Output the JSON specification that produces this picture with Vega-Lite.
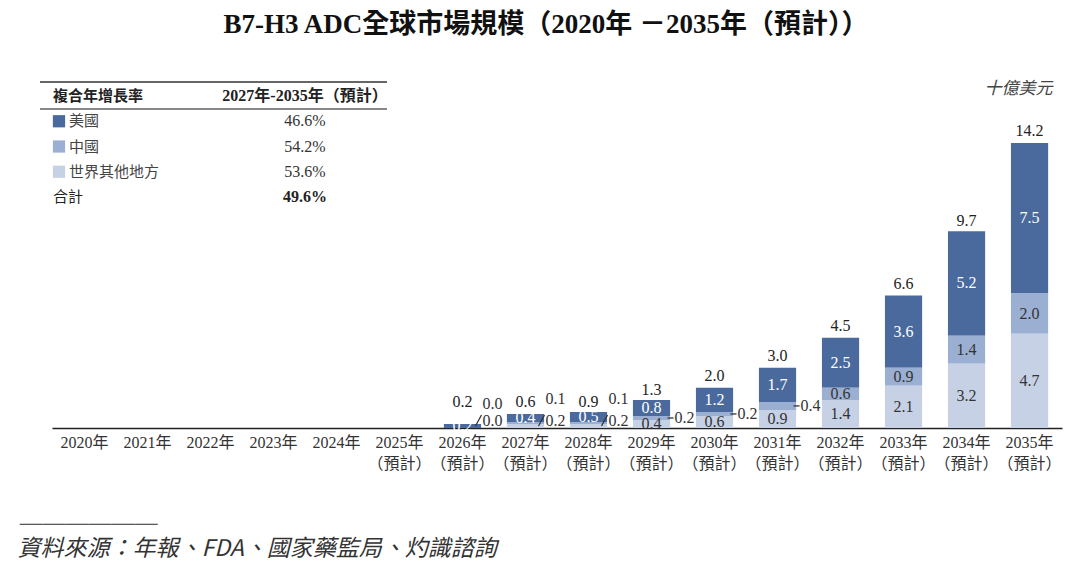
{
  "$schema": "https://vega.github.io/schema/vega-lite/v6.json",
  "width": 1080,
  "height": 368,
  "autosize": {"type": "none"},
  "padding": {"left": 0, "top": 60, "right": 0, "bottom": 137},
  "background": "white",
  "config": {"view": {"stroke": null}},
  "title": {
    "text": "B7-H3 ADC全球市場規模（2020年 －2035年（預計））",
    "font": "Liberation Serif, Noto Sans CJK TC",
    "fontSize": 27,
    "fontWeight": "bold",
    "color": "#111111",
    "anchor": "middle",
    "frame": "group",
    "offset": 8,
    "dx": 6,
    "baseline": "middle"
  },
  "datasets": {
    "bars": [
      {"year": "2026", "region": "美國", "value": 0.2},
      {"year": "2026", "region": "中國", "value": 0.0},
      {"year": "2026", "region": "世界其他地方", "value": 0.0},
      {"year": "2027", "region": "美國", "value": 0.4},
      {"year": "2027", "region": "中國", "value": 0.1},
      {"year": "2027", "region": "世界其他地方", "value": 0.2},
      {"year": "2028", "region": "美國", "value": 0.5},
      {"year": "2028", "region": "中國", "value": 0.1},
      {"year": "2028", "region": "世界其他地方", "value": 0.2},
      {"year": "2029", "region": "美國", "value": 0.8},
      {"year": "2029", "region": "中國", "value": 0.2},
      {"year": "2029", "region": "世界其他地方", "value": 0.4},
      {"year": "2030", "region": "美國", "value": 1.2},
      {"year": "2030", "region": "中國", "value": 0.2},
      {"year": "2030", "region": "世界其他地方", "value": 0.6},
      {"year": "2031", "region": "美國", "value": 1.7},
      {"year": "2031", "region": "中國", "value": 0.4},
      {"year": "2031", "region": "世界其他地方", "value": 0.9},
      {"year": "2032", "region": "美國", "value": 2.5},
      {"year": "2032", "region": "中國", "value": 0.6},
      {"year": "2032", "region": "世界其他地方", "value": 1.4},
      {"year": "2033", "region": "美國", "value": 3.6},
      {"year": "2033", "region": "中國", "value": 0.9},
      {"year": "2033", "region": "世界其他地方", "value": 2.1},
      {"year": "2034", "region": "美國", "value": 5.2},
      {"year": "2034", "region": "中國", "value": 1.4},
      {"year": "2034", "region": "世界其他地方", "value": 3.2},
      {"year": "2035", "region": "美國", "value": 7.5},
      {"year": "2035", "region": "中國", "value": 2.0},
      {"year": "2035", "region": "世界其他地方", "value": 4.7}
    ],
    "totals": [
      {"year": "2026", "total": 0.2},
      {"year": "2027", "total": 0.6},
      {"year": "2028", "total": 0.9},
      {"year": "2029", "total": 1.3},
      {"year": "2030", "total": 2.0},
      {"year": "2031", "total": 3.0},
      {"year": "2032", "total": 4.5},
      {"year": "2033", "total": 6.6},
      {"year": "2034", "total": 9.7},
      {"year": "2035", "total": 14.2}
    ],
    "table": [
      {"row": "header", "label": "複合年增長率", "cagr": "2027年-2035年（預計）"},
      {"row": "us", "region": "美國", "label": "美國", "cagr": "46.6%"},
      {"row": "cn", "region": "中國", "label": "中國", "cagr": "54.2%"},
      {"row": "row", "region": "世界其他地方", "label": "世界其他地方", "cagr": "53.6%"},
      {"row": "total", "label": "合計", "cagr": "49.6%"}
    ]
  },
  "layer": [
    {
      "data": {"name": "bars"},
      "layer": [
        {
          "transform": [
            {"stack": "value", "groupby": ["year"], "sort": [{"field": "region", "order": "ascending"}], "as": ["v0", "v1"]}
          ],
          "mark": {"type": "bar"},
          "encoding": {
            "x": {
              "field": "year",
              "type": "ordinal",
              "scale": {
                "type": "band",
                "domain": ["2020", "2021", "2022", "2023", "2024", "2025", "2026", "2027", "2028", "2029", "2030", "2031", "2032", "2033", "2034", "2035"],
                "range": [52, 1062],
                "paddingInner": 0.41,
                "paddingOuter": 0.22
              },
              "axis": {
                "title": ["──────", "資料來源：年報、FDA、國家藥監局、灼識諮詢"],
                "titleX": 17,
                "titleY": 104,
                "titleAlign": "left",
                "titleAnchor": "start",
                "titleBaseline": "alphabetic",
                "titleLineHeight": 23,
                "titleFont": "Noto Sans CJK TC",
                "titleFontSize": 23,
                "titleFontStyle": "italic",
                "titleFontWeight": "normal",
                "titleColor": "#333333",
                "labelExpr": "toNumber(datum.value) >= 2025 ? [datum.value + '年', '（預計）'] : datum.value + '年'",
                "labelAngle": 0,
                "labelFont": "Liberation Serif, Noto Sans CJK TC",
                "labelFontSize": 16,
                "labelColor": "#333333",
                "labelPadding": 6,
                "labelBaseline": "top",
                "labelLineHeight": 21,
                "ticks": false,
                "domainColor": "#222222",
                "domainWidth": 1.5,
                "grid": false
              }
            },
            "y": {
              "field": "v1",
              "type": "quantitative",
              "scale": {"domain": [0, 18.335], "nice": false, "zero": true},
              "axis": {
                "orient": "right",
                "labels": false,
                "ticks": false,
                "domain": false,
                "grid": false,
                "title": "十億美元",
                "titleAngle": 0,
                "titleX": -28,
                "titleY": 28,
                "titleAlign": "right",
                "titleBaseline": "middle",
                "titleFont": "Noto Sans CJK TC",
                "titleFontStyle": "italic",
                "titleFontSize": 17,
                "titleFontWeight": "normal",
                "titleColor": "#444444"
              }
            },
            "y2": {"field": "v0"},
            "color": {
              "field": "region",
              "type": "nominal",
              "scale": {"domain": ["世界其他地方", "中國", "美國"], "range": ["#c6d1e6", "#9aafd2", "#4a6a9e"]},
              "legend": null
            }
          }
        },
        {
          "transform": [
            {"stack": "value", "groupby": ["year"], "sort": [{"field": "region", "order": "ascending"}], "as": ["v0", "v1"]},
            {"calculate": "(datum.v0 + datum.v1) / 2", "as": "mid"},
            {"filter": "datum.region == '美國' || (datum.region == '中國' && datum.value >= 0.6) || (datum.region == '世界其他地方' && datum.value >= 0.4)"}
          ],
          "mark": {"type": "text", "font": "Liberation Serif", "fontSize": 16, "baseline": "middle", "align": "center"},
          "encoding": {
            "x": {"field": "year", "type": "ordinal"},
            "y": {"field": "mid", "type": "quantitative"},
            "text": {"field": "value", "type": "quantitative", "format": ".1f"},
            "color": {"condition": {"test": "datum.region == '美國'", "value": "white"}, "value": "#333333"}
          }
        },
        {
          "transform": [
            {"stack": "value", "groupby": ["year"], "sort": [{"field": "region", "order": "ascending"}], "as": ["v0", "v1"]},
            {"calculate": "(datum.v0 + datum.v1) / 2", "as": "mid"},
            {"filter": "datum.region == '中國' && datum.value < 0.2"}
          ],
          "mark": {"type": "text", "font": "Liberation Serif", "fontSize": 16, "baseline": "middle", "align": "center", "dx": 30, "dy": -24, "color": "#333333"},
          "encoding": {
            "x": {"field": "year", "type": "ordinal"},
            "y": {"field": "mid", "type": "quantitative"},
            "text": {"field": "value", "type": "quantitative", "format": ".1f"}
          }
        },
        {
          "transform": [
            {"stack": "value", "groupby": ["year"], "sort": [{"field": "region", "order": "ascending"}], "as": ["v0", "v1"]},
            {"calculate": "(datum.v0 + datum.v1) / 2", "as": "mid"},
            {"filter": "datum.region == '中國' && datum.value >= 0.2 && datum.value < 0.6"}
          ],
          "mark": {"type": "rule", "color": "#333333", "strokeWidth": 1.3, "xOffset": 16, "x2Offset": 22},
          "encoding": {
            "x": {"field": "year", "type": "ordinal"},
            "x2": {"field": "year"},
            "y": {"field": "mid", "type": "quantitative"}
          }
        },
        {
          "transform": [
            {"stack": "value", "groupby": ["year"], "sort": [{"field": "region", "order": "ascending"}], "as": ["v0", "v1"]},
            {"calculate": "(datum.v0 + datum.v1) / 2", "as": "mid"},
            {"filter": "datum.region == '中國' && datum.value >= 0.2 && datum.value < 0.6"}
          ],
          "mark": {"type": "text", "font": "Liberation Serif", "fontSize": 16, "baseline": "middle", "align": "left", "dx": 23, "color": "#333333"},
          "encoding": {
            "x": {"field": "year", "type": "ordinal"},
            "y": {"field": "mid", "type": "quantitative"},
            "text": {"field": "value", "type": "quantitative", "format": ".1f"}
          }
        },
        {
          "transform": [
            {"filter": "datum.region == '世界其他地方' && datum.value < 0.4"}
          ],
          "mark": {"type": "rule", "color": "#333333", "strokeWidth": 1.3, "xOffset": 13, "x2Offset": 19, "yOffset": -2, "y2Offset": -13},
          "encoding": {
            "x": {"field": "year", "type": "ordinal"},
            "x2": {"field": "year"},
            "y": {"datum": 0, "type": "quantitative"},
            "y2": {"datum": 0}
          }
        },
        {
          "transform": [
            {"filter": "datum.region == '世界其他地方' && datum.value < 0.4"}
          ],
          "mark": {"type": "text", "font": "Liberation Serif", "fontSize": 16, "baseline": "middle", "align": "left", "dx": 20, "dy": -7, "color": "#333333"},
          "encoding": {
            "x": {"field": "year", "type": "ordinal"},
            "y": {"datum": 0, "type": "quantitative"},
            "text": {"field": "value", "type": "quantitative", "format": ".1f"}
          }
        },
        {
          "data": {"name": "totals"},
          "transform": [{"filter": "datum.total >= 1"}],
          "mark": {"type": "text", "font": "Liberation Serif", "fontSize": 16, "baseline": "bottom", "align": "center", "dy": -4, "color": "#222222"},
          "encoding": {
            "x": {"field": "year", "type": "ordinal"},
            "y": {"field": "total", "type": "quantitative"},
            "text": {"field": "total", "type": "quantitative", "format": ".1f"}
          }
        },
        {
          "data": {"name": "totals"},
          "transform": [{"filter": "datum.total < 1"}],
          "mark": {"type": "text", "font": "Liberation Serif", "fontSize": 16, "baseline": "middle", "align": "center", "dy": -26, "color": "#222222"},
          "encoding": {
            "x": {"field": "year", "type": "ordinal"},
            "y": {"datum": 0, "type": "quantitative"},
            "text": {"field": "total", "type": "quantitative", "format": ".1f"}
          }
        }
      ]
    },
    {
      "data": {"name": "table"},
      "encoding": {
        "y": {
          "field": "row",
          "type": "ordinal",
          "scale": {"type": "point", "domain": ["header", "us", "cn", "row", "total"], "range": [36, 137], "padding": 0},
          "axis": null
        }
      },
      "layer": [
        {
          "transform": [{"filter": "datum.row == 'header'"}],
          "mark": {"type": "rule", "color": "#333333", "strokeWidth": 1.5, "yOffset": -14, "xOffset": -13, "x2Offset": 82},
          "encoding": {
            "x": {"datum": "label", "type": "ordinal", "scale": {"type": "point", "domain": ["label", "value"], "range": [53, 305], "padding": 0}, "axis": null},
            "x2": {"datum": "value"}
          }
        },
        {
          "transform": [{"filter": "datum.row == 'header'"}],
          "mark": {"type": "rule", "color": "#888888", "strokeWidth": 2, "yOffset": 13, "xOffset": -13, "x2Offset": 82},
          "encoding": {
            "x": {"datum": "label", "type": "ordinal", "axis": null},
            "x2": {"datum": "value"}
          }
        },
        {
          "transform": [{"filter": "isValid(datum.region)"}],
          "mark": {"type": "point", "shape": "square", "filled": true, "opacity": 1, "size": 150, "xOffset": 6},
          "encoding": {
            "x": {"datum": "label", "type": "ordinal", "axis": null},
            "color": {"field": "region", "type": "nominal", "legend": null}
          }
        },
        {
          "transform": [{"filter": "isValid(datum.region)"}],
          "mark": {"type": "text", "font": "Noto Sans CJK TC", "fontSize": 15, "align": "left", "baseline": "middle", "dx": 16, "color": "#444444"},
          "encoding": {
            "x": {"datum": "label", "type": "ordinal", "axis": null},
            "text": {"field": "label"}
          }
        },
        {
          "transform": [{"filter": "datum.row == 'header'"}],
          "mark": {"type": "text", "font": "Noto Sans CJK TC", "fontSize": 15, "fontWeight": "bold", "align": "left", "baseline": "middle", "color": "#222222"},
          "encoding": {
            "x": {"datum": "label", "type": "ordinal", "axis": null},
            "text": {"field": "label"}
          }
        },
        {
          "transform": [{"filter": "datum.row == 'total'"}],
          "mark": {"type": "text", "font": "Noto Sans CJK TC", "fontSize": 15, "align": "left", "baseline": "middle", "color": "#222222"},
          "encoding": {
            "x": {"datum": "label", "type": "ordinal", "axis": null},
            "text": {"field": "label"}
          }
        },
        {
          "transform": [{"filter": "datum.row == 'header' || datum.row == 'total'"}],
          "mark": {"type": "text", "font": "Liberation Serif, Noto Sans CJK TC", "fontSize": 16, "fontWeight": "bold", "align": "center", "baseline": "middle", "color": "#222222"},
          "encoding": {
            "x": {"datum": "value", "type": "ordinal", "axis": null},
            "text": {"field": "cagr"}
          }
        },
        {
          "transform": [{"filter": "isValid(datum.region)"}],
          "mark": {"type": "text", "font": "Liberation Serif", "fontSize": 16, "align": "center", "baseline": "middle", "color": "#333333"},
          "encoding": {
            "x": {"datum": "value", "type": "ordinal", "axis": null},
            "text": {"field": "cagr"}
          }
        }
      ]
    }
  ],
  "resolve": {"scale": {"x": "independent", "y": "independent"}}
}
